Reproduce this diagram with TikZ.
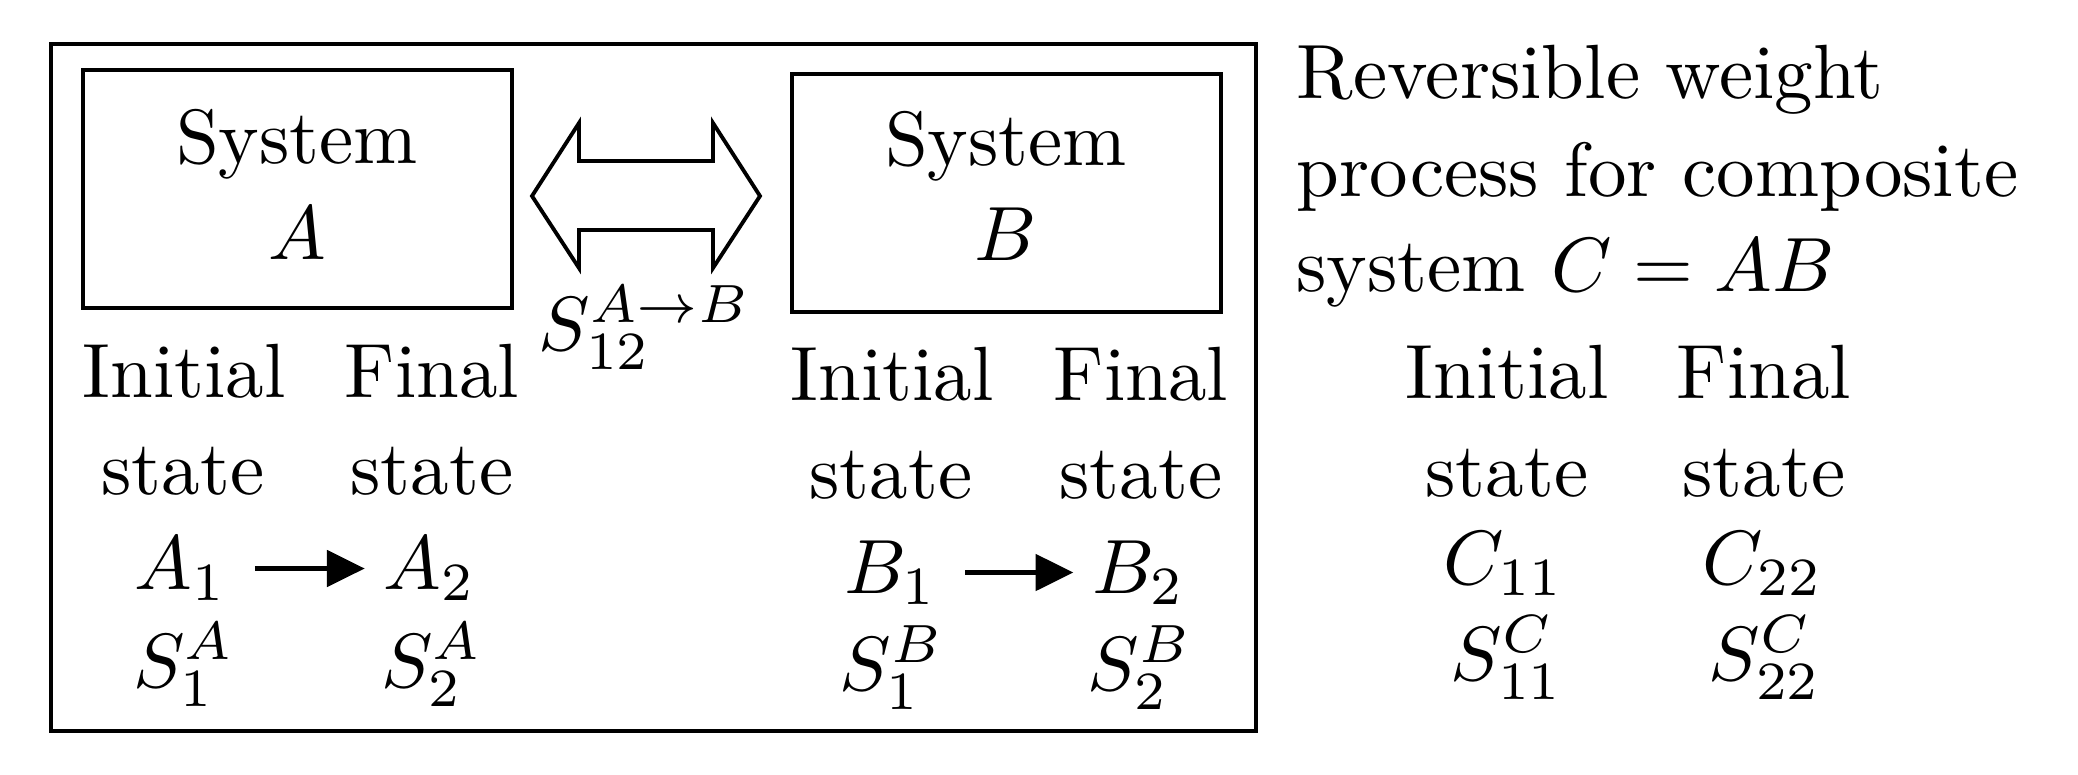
\documentclass[tikz,border=0pt]{standalone}
\usetikzlibrary{arrows.meta}
\tikzset{
  lbl/.style={anchor=base, inner sep=0pt},
  lblw/.style={anchor=base west, inner sep=0pt},
  sysbox/.style={draw, line width=0.5pt, minimum width=55.77pt, minimum height=30.94pt, inner sep=0pt},
  statearrow/.style={line width=0.55pt, -{Triangle[length=4.9pt,width=4.7pt]}},
}
\begin{document}
\begin{tikzpicture}[x=0.13pt, y=-0.13pt]
\useasboundingbox (0,0) rectangle (2078,774);
% outer frame
\node[draw, line width=0.5pt, minimum width=156.65pt, minimum height=89.31pt, inner sep=0pt] (frame) at (653.5,387.5) {};
% system boxes
\node[sysbox] (boxA) at (297.5,189) {};
\node[sysbox] (boxB) at (1006.5,193) {};
\node[lbl] (sysA) at (297,163) {System};
\node[lbl] (letA) at (297,259) {$A$};
\node[lbl] (sysB) at (1006,165) {System};
\node[lbl] (letB) at (1006,260) {$B$};
% double arrow
\draw[line width=0.5pt, line join=miter] (532,196) -- (579,123) -- (579,161) -- (713,161) -- (713,123) -- (760,196) -- (713,268) -- (713,230) -- (579,230) -- (579,268) -- cycle;
\node[lbl] (sab) at (645,350) {$S_{12}^{A\to B}$};
% A column
\node[lbl] (iniA) at (184,397) {Initial};
\node[lbl] (finA) at (432,397) {Final};
\node[lbl] (stiA) at (183,494) {state};
\node[lbl] (stfA) at (432,494) {state};
\node[lbl] (a1) at (181,589) {$A_1$};
\node[lbl] (a2) at (430,589) {$A_2$};
\node[lbl] (s1a) at (184,687) {$S_1^A$};
\node[lbl] (s2a) at (432,687) {$S_2^A$};
\draw[statearrow, shorten <=3.4pt, shorten >=2.3pt] (a1.east) -- (a2.west);
% B column
\node[lbl] (iniB) at (892,400) {Initial};
\node[lbl] (finB) at (1141,400) {Final};
\node[lbl] (stiB) at (891,498) {state};
\node[lbl] (stfB) at (1141,498) {state};
\node[lbl] (b1) at (891,593) {$B_1$};
\node[lbl] (b2) at (1139,593) {$B_2$};
\node[lbl] (s1b) at (892,690) {$S_1^B$};
\node[lbl] (s2b) at (1140,690) {$S_2^B$};
\draw[statearrow, shorten <=3.4pt, shorten >=2.3pt] (b1.east) -- (b2.west);
% right description
\node[lblw] (t1) at (1295,98) {Reversible weight};
\node[lblw] (t2) at (1295,196) {process for composite};
\node[lblw] (t3) at (1295,291) {system $C=AB$};
\node[lbl] (iniC) at (1507,398) {Initial};
\node[lbl] (finC) at (1764,398) {Final};
\node[lbl] (stiC) at (1507,496) {state};
\node[lbl] (stfC) at (1764,496) {state};
\node[lbl] (c11) at (1504,584) {$C_{11}$};
\node[lbl] (c22) at (1763,584) {$C_{22}$};
\node[lbl] (s11) at (1507,680) {$S_{11}^C$};
\node[lbl] (s22) at (1765,680) {$S_{22}^C$};
\end{tikzpicture}
\end{document}
